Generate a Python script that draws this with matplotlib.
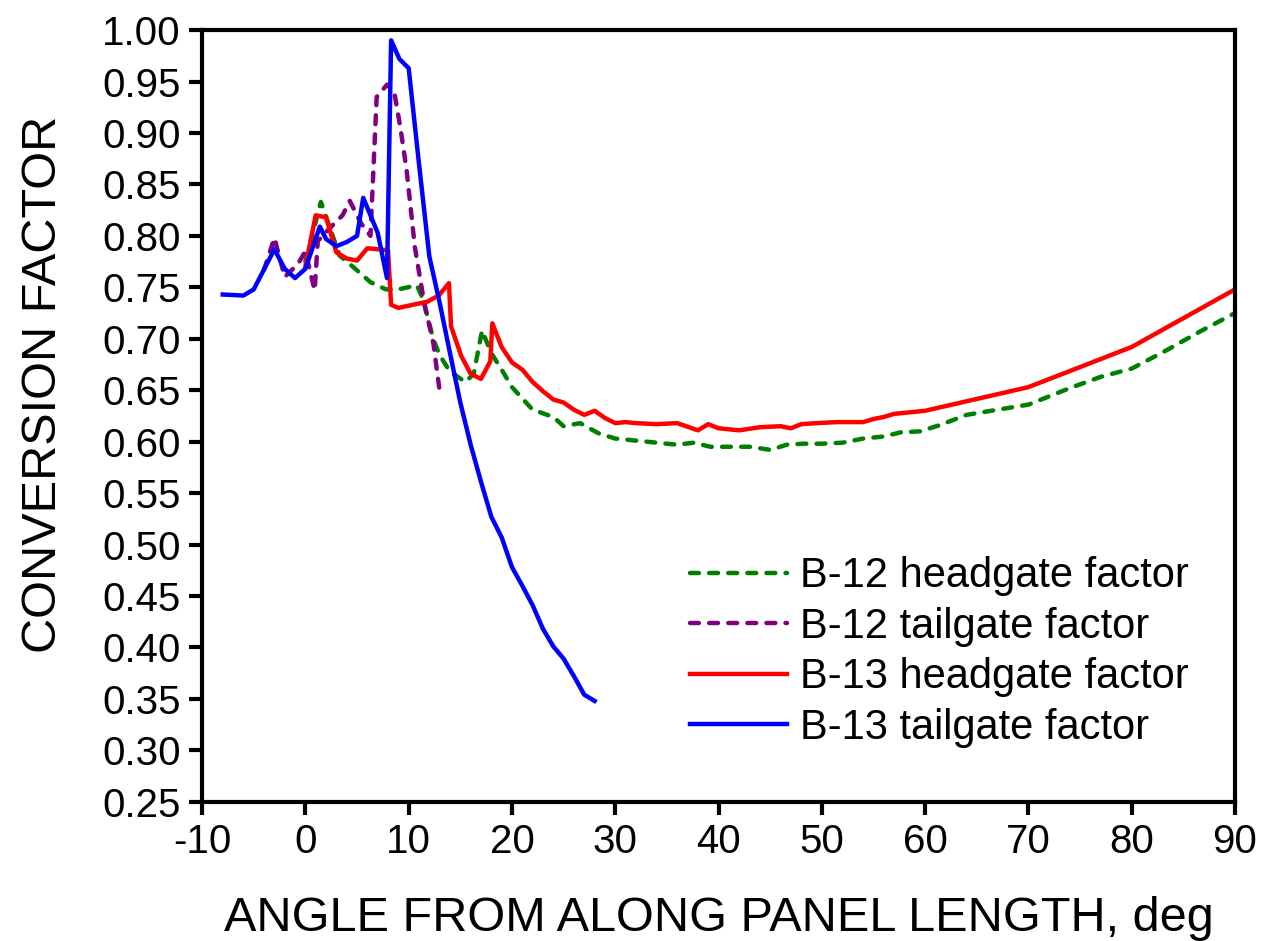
import matplotlib
matplotlib.use("Agg")
import matplotlib.pyplot as plt
from matplotlib.ticker import MultipleLocator, FormatStrFormatter

plt.rcParams['font.family'] = ['Liberation Sans', 'DejaVu Sans']
plt.rcParams['axes.unicode_minus'] = False

# B-12 headgate factor
b12h_x = [0, 1.5, 3.3, 4.6, 6.3, 7.8, 9, 10.8, 11.4, 12.4, 13, 14, 15.5, 16.3, 17.1, 18, 19, 20,
          22, 24, 25, 26.6, 28.4, 30, 32, 34, 36, 37.6, 39.2, 41, 43, 45, 46.6, 48.2, 50, 52,
          54, 56, 57.6, 59.5, 61.4, 64, 67, 70, 74, 77, 80, 83.4, 86.6, 90]
b12h_y = [0.775, 0.833, 0.781, 0.770, 0.755, 0.748, 0.748, 0.752, 0.738, 0.699, 0.684, 0.668,
          0.658, 0.666, 0.708, 0.686, 0.670, 0.653, 0.631, 0.624, 0.615, 0.618, 0.608, 0.603,
          0.601, 0.599, 0.597, 0.599, 0.595, 0.595, 0.595, 0.592, 0.597, 0.598, 0.598, 0.599,
          0.603, 0.605, 0.609, 0.610, 0.616, 0.626, 0.631, 0.636, 0.652, 0.663, 0.671, 0.689,
          0.707, 0.725]

# B-12 tailgate factor
b12t_x = [-4, -3, -2, -0.7, 0, 0.9, 1.2, 2.5, 3.6, 4.3, 5.4, 6.3, 6.9, 7.9, 8.6, 9.2, 9.8,
          10.6, 11.5, 12.4, 13]
b12t_y = [0.767, 0.798, 0.760, 0.773, 0.785, 0.747, 0.795, 0.809, 0.820, 0.834, 0.812, 0.800,
          0.935, 0.947, 0.940, 0.905, 0.864, 0.789, 0.735, 0.695, 0.649]

# B-13 headgate factor
b13h_x = [0, 1, 2, 3, 4, 5, 6, 7, 8, 8.3, 9, 11.8, 12.9, 13.9, 14.1, 15.1, 16, 17, 17.9, 18.1,
          19, 20, 21, 22, 23, 24, 25, 26, 27, 28, 29, 30, 31, 32, 34, 36, 38, 39, 40, 42, 44,
          46, 47, 48, 49.5, 51.5, 54, 55, 56, 57, 60, 70, 80, 90]
b13h_y = [0.770, 0.820, 0.818, 0.784, 0.778, 0.776, 0.788, 0.787, 0.786, 0.733, 0.730, 0.736,
          0.742, 0.754, 0.712, 0.683, 0.666, 0.661, 0.678, 0.715, 0.692, 0.677, 0.670, 0.658,
          0.649, 0.641, 0.638, 0.631, 0.626, 0.630, 0.623, 0.618, 0.619, 0.618, 0.617, 0.618,
          0.611, 0.617, 0.613, 0.611, 0.614, 0.615, 0.613, 0.617, 0.618, 0.619, 0.619, 0.622,
          0.624, 0.627, 0.630, 0.653, 0.692, 0.748]

# B-13 tailgate factor
b13t_x = [-8, -6, -5, -3, -2, -1, 0, 1.4, 2, 3, 4, 5, 5.6, 7, 7.9, 8.3, 9.1, 10, 11, 12, 13,
          14, 15, 16, 17, 18, 19, 20, 21, 22, 23, 24, 25, 26, 27, 28]
b13t_y = [0.743, 0.742, 0.748, 0.787, 0.768, 0.759, 0.768, 0.809, 0.797, 0.790, 0.794, 0.800,
          0.837, 0.803, 0.759, 0.990, 0.972, 0.963, 0.870, 0.780, 0.735, 0.686, 0.638, 0.597,
          0.561, 0.527, 0.507, 0.478, 0.460, 0.441, 0.418, 0.401, 0.389, 0.372, 0.354, 0.348]

fig = plt.figure(figsize=(12.71, 9.41), dpi=100)
ax = fig.add_axes([0.159, 0.148, 0.8127, 0.820])

ax.plot(b12h_x, b12h_y, color='#008000', lw=3.2, linestyle=(0, (2.0, 2.3)),
        dash_capstyle='round', label='B-12 headgate factor')
ax.plot(b12t_x, b12t_y, color='#800080', lw=3.2, linestyle=(0, (2.0, 2.3)),
        dash_capstyle='round', label='B-12 tailgate factor')
ax.plot(b13h_x, b13h_y, color='#ff0000', lw=3.2, label='B-13 headgate factor')
ax.plot(b13t_x, b13t_y, color='#0000ff', lw=3.2, label='B-13 tailgate factor')

ax.set_xlim(-10, 90)
ax.set_ylim(0.25, 1.00)
ax.xaxis.set_major_locator(MultipleLocator(10))
ax.yaxis.set_major_locator(MultipleLocator(0.05))
ax.yaxis.set_major_formatter(FormatStrFormatter('%.2f'))
ax.tick_params(axis='both', direction='out', length=9.5, width=3, labelsize=29, pad=6)

for s in ax.spines.values():
    s.set_linewidth(3)

ax.set_xlabel('ANGLE FROM ALONG PANEL LENGTH, deg', fontsize=35, labelpad=25)
ax.set_ylabel('CONVERSION FACTOR', fontsize=35)
ax.yaxis.set_label_coords(-0.132, 0.541)

ax.legend(loc='upper left', bbox_to_anchor=(0.472, 0.318), frameon=False, fontsize=30,
          handlelength=2.33, handletextpad=0.31, labelspacing=0.25, borderpad=0,
          borderaxespad=0)

fig.savefig('out.png', dpi=100)
